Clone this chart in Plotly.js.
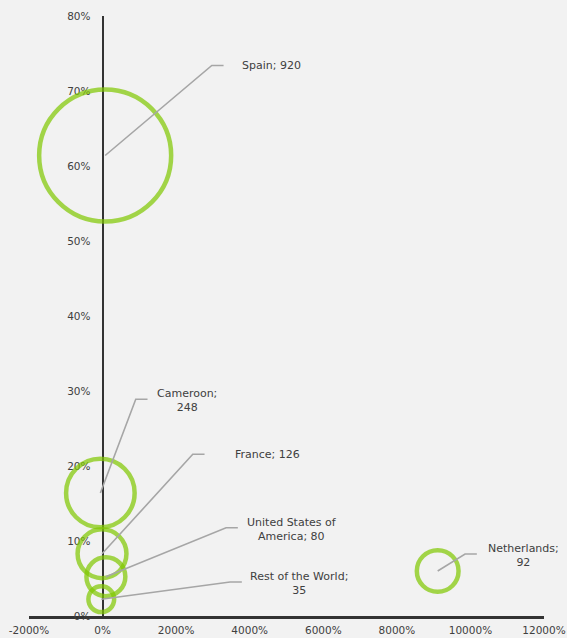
<!DOCTYPE html>
<html>
<head>
<meta charset="utf-8">
<script src="https://cdn.plot.ly/plotly-3.0.1.min.js"></script>
<style>html,body{margin:0;padding:0;background:#f2f2f2;}#chart{width:567px;height:638px;}</style>
</head>
<body>
<div id="chart"></div>
<script>
// ---- data ----
var countries = ["Spain", "Cameroon", "France", "United States of America", "Rest of the World", "Netherlands"];
var xValues = [70, -60, -15, 90, -35, 9110];      // x (%)
var yValues = [61.4, 16.4, 8.3, 5.24, 2.24, 6.0];  // y (%)
var bubbleValues = [920, 248, 126, 80, 35, 92];
var labelTexts = ["Spain; 920", "Cameroon;<br>248", "France; 126", "United States of<br>America; 80", "Rest of the World;<br>35", "Netherlands;<br>92"];
var xTickVals = [-2000, 0, 2000, 4000, 6000, 8000, 10000, 12000];
var yTickVals = [0, 10, 20, 30, 40, 50, 60, 70, 80];
var xTickText = xTickVals.map(function (v) { return v + "%"; });
var yTickText = yTickVals.map(function (v) { return v + "%"; });

// ---- label placement (layout only, data coordinates) ----
var elbowX = [2969, 902, 2452, 3357, 3466, 9854];
var elbowY = [73.4, 28.9, 21.56, 11.77, 4.53, 8.27];
var elbowLen = 320;
var labelX = [3740, 2290, 3550, 5160, 5342, 11450];
var labelY = [73.4, 28.7, 21.47, 11.57, 4.31, 8.04];
var labelAnchor = ["left", "center", "left", "center", "center", "center"];

var green = "#80c800";
var tickFont = {family: "DejaVu Sans, Verdana, sans-serif", size: 10.5, color: "#404040"};
var traces = [];

traces.push({
  type: "scatter", mode: "markers",
  x: xValues, y: yValues, text: countries,
  marker: {
    size: bubbleValues, sizemode: "area",
    sizeref: 2 * Math.max.apply(null, bubbleValues) / (132 * 132),
    color: "rgba(0,0,0,0)",
    line: {color: green, width: 4.5}
  },
  hoverinfo: "skip", showlegend: false
});

for (var i = 0; i < countries.length; i++) {
  traces.push({
    type: "scatter", mode: "lines",
    x: [xValues[i], elbowX[i], elbowX[i] + elbowLen],
    y: [yValues[i], elbowY[i], elbowY[i]],
    line: {color: "#a6a6a6", width: 1.6},
    hoverinfo: "skip", showlegend: false
  });
}

var annotations = labelTexts.map(function (t, i) {
  return {
    x: labelX[i], y: labelY[i], xref: "x", yref: "y",
    text: t, showarrow: false, xanchor: labelAnchor[i], yanchor: "middle",
    align: "center",
    font: {family: "DejaVu Sans, Verdana, sans-serif", size: 11, color: "#404040"}
  };
});

var layout = {
  width: 567, height: 638,
  margin: {l: 29, r: 23, t: 16, b: 22},
  paper_bgcolor: "#f2f2f2", plot_bgcolor: "#f2f2f2",
  font: {family: "DejaVu Sans, Verdana, sans-serif", size: 10.5, color: "#404040"},
  showlegend: false,
  xaxis: {
    range: [-2000, 12000], tickmode: "array", tickvals: xTickVals, ticktext: xTickText,
    tickfont: tickFont,
    showgrid: false, zeroline: false, showline: true, linecolor: "#333333", linewidth: 2.5,
    ticks: "", ticklabelstandoff: 3, layer: "below traces", fixedrange: true
  },
  yaxis: {
    range: [0, 80], tickmode: "array", tickvals: yTickVals, ticktext: yTickText,
    tickfont: tickFont,
    anchor: "free", position: 2000 / 14000,
    showgrid: false, zeroline: false, showline: true, linecolor: "#333333", linewidth: 2,
    ticks: "", ticklabelstandoff: 9, layer: "below traces", fixedrange: true
  },
  annotations: annotations
};

Plotly.newPlot("chart", traces, layout, {displayModeBar: false, staticPlot: true});
</script>
</body>
</html>
